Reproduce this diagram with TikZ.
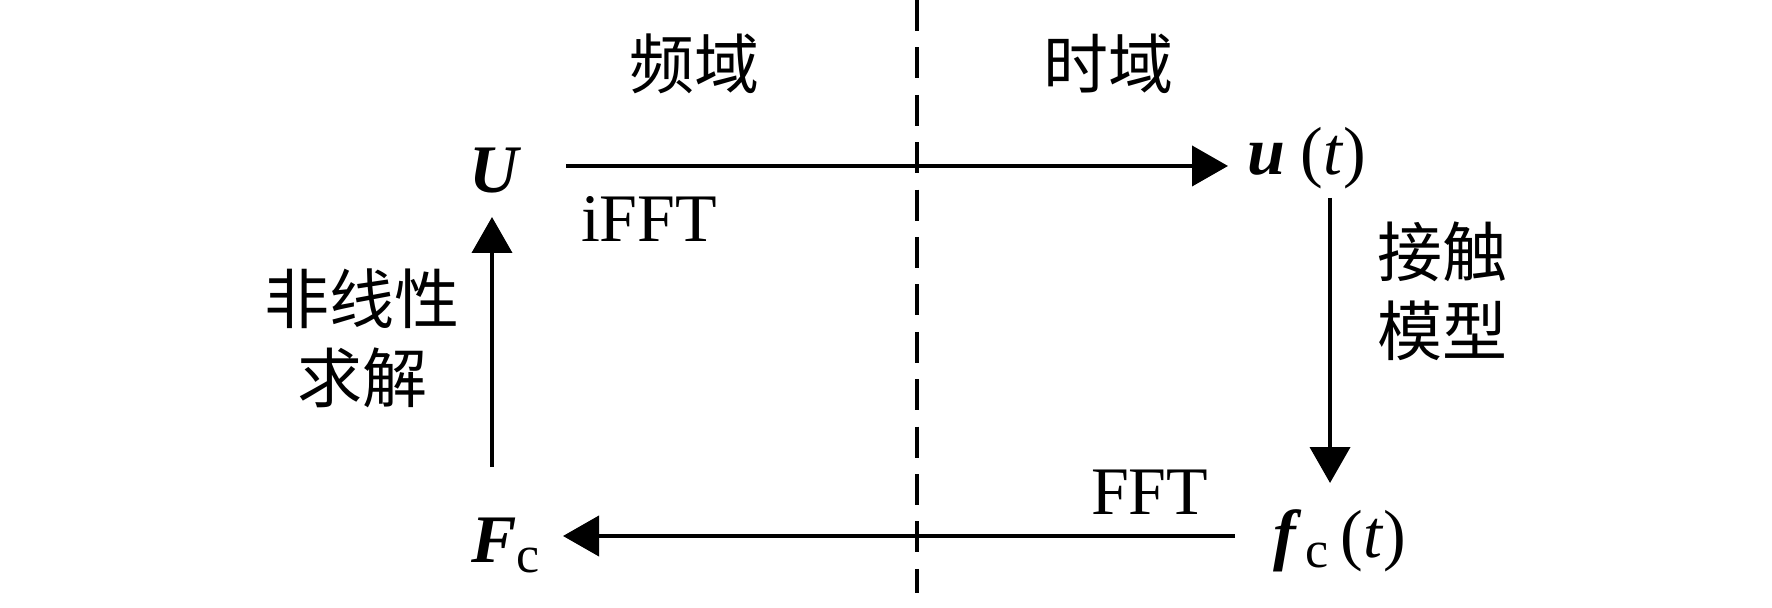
\documentclass[tikz,border=0pt]{standalone}
\usepackage{fontspec}
\setmainfont{Liberation Serif}
\newfontfamily\cjk{Noto Sans CJK SC}
\usetikzlibrary{arrows.meta}
\tikzset{
  lbl/.style={inner sep=0pt, outer sep=0pt, font=\fontsize{17}{20}\selectfont},
  cjklbl/.style={inner sep=0pt, outer sep=0pt, align=center, font=\cjk\fontsize{16.25}{19.75}\selectfont},
  arr/.style={line width=1pt, -{Triangle[length=9pt,width=10pt]}},
  divider/.style={line width=1.1pt, dash pattern=on 7.75pt off 4.1pt}
}
\newcommand{\bi}[1]{\textbf{\textit{#1}}}
\newcommand{\subc}{\raisebox{-2.5pt}{\fontsize{13}{13}\selectfont c}}
\begin{document}
\begin{tikzpicture}[x=0.25pt,y=-0.25pt]
\useasboundingbox (0,0) rectangle (1772,608);
% divider
\coordinate (d1) at (917,0);
\coordinate (d2) at (917,593);
\draw[divider] (d1) -- (d2);
% labels
\node[cjklbl] (freq) at (694,64) {频域};
\node[cjklbl] (time) at (1108,64) {时域};
% main nodes
\node[lbl, anchor=base west] (U) at (469,193) {\bi{U}};
\node[lbl, anchor=base west] (ut) at (1247,175) {\bi{u}\kern4pt(\textit{t})};
\node[lbl, anchor=base west] (Fc) at (471,562) {\bi{F}\subc};
\node[lbl, anchor=base west] (fct) at (1273,557) {\bi{f}\kern1pt\subc\kern3pt(\textit{t})};
% connector end points
\coordinate (a1) at (566,166);
\coordinate (a2) at (1228,166);
\coordinate (b1) at (1330,198);
\coordinate (b2) at (1330,483);
\coordinate (c1) at (1235,536);
\coordinate (c2) at (563,536);
\coordinate (e1) at (492,467);
\coordinate (e2) at (492,217);
\draw[arr] (a1) -- (a2);
\draw[arr] (b1) -- (b2);
\draw[arr] (c1) -- (c2);
\draw[arr] (e1) -- (e2);
% edge labels
\node[lbl, anchor=base west] (ifft) at (581,242) {iFFT};
\node[lbl, anchor=base west] (fft) at (1091,514) {FFT};
\node[cjklbl] (solve) at (362,338) {非线性\\求解};
\node[cjklbl] (contact) at (1442,291) {接触\\模型};
\end{tikzpicture}
\end{document}
